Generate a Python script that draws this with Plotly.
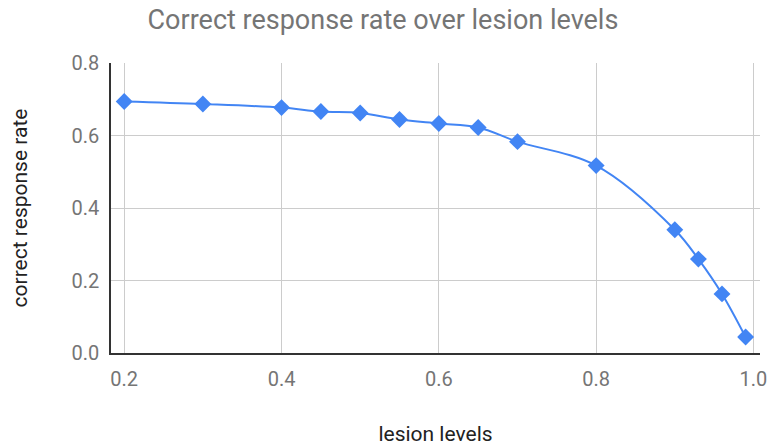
import plotly.graph_objects as go

lesion_levels = [0.2, 0.3, 0.4, 0.45, 0.5, 0.55, 0.6, 0.65, 0.7, 0.8, 0.9, 0.93, 0.96, 0.99]
correct_rate = [0.694, 0.687, 0.677, 0.666, 0.662, 0.644, 0.633, 0.622, 0.583, 0.517, 0.340, 0.259, 0.163, 0.044]

x_ticks = [0.2, 0.4, 0.6, 0.8, 1.0]
x_tick_labels = ["0.2", "0.4", "0.6", "0.8", "1.0"]
y_ticks = [0.0, 0.2, 0.4, 0.6, 0.8]
y_tick_labels = ["0.0", "0.2", "0.4", "0.6", "0.8"]

fig = go.Figure()
fig.add_trace(go.Scatter(
    x=lesion_levels, y=correct_rate, mode="lines+markers",
    line=dict(color="#4285F4", width=2, shape="spline", smoothing=1.0),
    marker=dict(symbol="diamond", size=13, color="#4285F4"),
    showlegend=False, hoverinfo="skip",
))

fig.update_layout(
    width=769, height=446,
    margin=dict(l=111, r=9, t=63, b=93),
    paper_bgcolor="white", plot_bgcolor="white",
    font=dict(family="Roboto", color="#757575"),
    title=dict(text="Correct response rate over lesion levels",
               font=dict(size=27, color="#757575", family="Roboto"),
               x=0.498, xref="container", xanchor="center",
               y=1 - 20 / 446, yref="container", yanchor="middle"),
    xaxis=dict(range=[0.1832, 1.0083], tickvals=x_ticks, ticktext=x_tick_labels,
               automargin=False,
               showgrid=True, gridcolor="#cccccc", gridwidth=1,
               zeroline=False, showline=True, linecolor="#333333", linewidth=1.5,
               ticks="", ticklen=0, ticklabelstandoff=7,
               tickfont=dict(size=20, color="#757575"),
               title=dict(text="lesion levels", font=dict(size=21, color="#222222"), standoff=40)),
    yaxis=dict(range=[0, 0.8], tickvals=y_ticks, ticktext=y_tick_labels,
               automargin=False,
               showgrid=True, gridcolor="#cccccc", gridwidth=1,
               zeroline=False, showline=True, linecolor="#333333", linewidth=1.5,
               ticks="", ticklabelstandoff=6,
               tickfont=dict(size=20, color="#757575"),
               title=dict(text="correct response rate", font=dict(size=21, color="#222222"), standoff=38)),
)

fig.write_html("out.html")
